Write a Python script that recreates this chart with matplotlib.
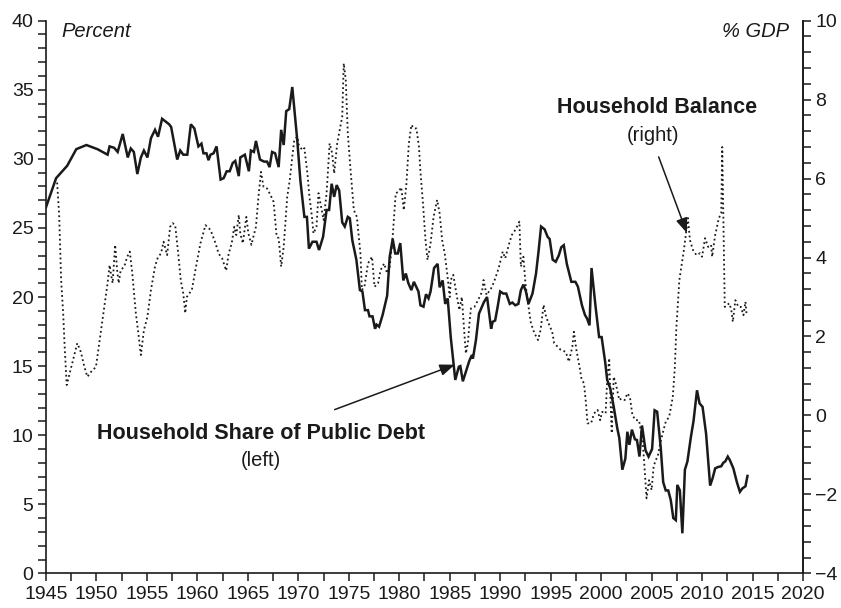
import matplotlib
matplotlib.use("Agg")
import matplotlib.pyplot as plt
from matplotlib.ticker import MultipleLocator

plt.rcParams['font.family'] = ['Liberation Sans', 'DejaVu Sans']

# household share of public debt (left axis, percent)
debt_years = [1945.0, 1946.0, 1947.1, 1948.0, 1949.0, 1950.1, 1951.1, 1951.3, 1951.75, 1952.1,
              1952.6, 1953.1, 1953.4, 1953.7, 1954.05, 1954.4, 1954.7, 1955.05, 1955.4, 1955.8,
              1956.1, 1956.5, 1957.2, 1957.4, 1958.0, 1958.3, 1958.6, 1959.0, 1959.35, 1959.7,
              1960.1, 1960.4, 1960.6, 1960.9, 1961.1, 1961.3, 1961.6, 1961.9, 1962.3, 1962.6,
              1962.9, 1963.2, 1963.5, 1963.75, 1964.1, 1964.25, 1964.7, 1965.1, 1965.3, 1965.6,
              1965.8, 1966.2, 1966.6, 1966.9, 1967.15, 1967.4, 1967.7, 1968.05, 1968.3, 1968.55,
              1968.8, 1969.1, 1969.4, 1969.9, 1970.2, 1970.6, 1970.85, 1971.05, 1971.4, 1971.8,
              1972.05, 1972.45, 1972.8, 1973.05, 1973.3, 1973.55, 1973.8, 1974.05, 1974.35, 1974.6,
              1974.9, 1975.1, 1975.35, 1975.75, 1976.1, 1976.35, 1976.6, 1976.9, 1977.05, 1977.35,
              1977.6, 1977.75, 1978.0, 1978.35, 1978.8, 1979.05, 1979.35, 1979.6, 1979.85, 1980.1,
              1980.4, 1980.65, 1980.9, 1981.2, 1981.45, 1981.9, 1982.1, 1982.4, 1982.65, 1982.9,
              1983.1, 1983.45, 1983.8, 1984.0, 1984.3, 1984.55, 1984.8, 1985.1, 1985.55, 1985.9,
              1986.05, 1986.3, 1986.6, 1986.95, 1987.2, 1987.3, 1987.6, 1987.9, 1988.4, 1988.7,
              1989.1, 1989.25, 1989.5, 1989.75, 1990.0, 1990.3, 1990.6, 1990.95, 1991.2, 1991.5,
              1991.8, 1992.05, 1992.3, 1992.55, 1992.8, 1993.2, 1993.55, 1993.8, 1994.05, 1994.4,
              1994.7, 1994.9, 1995.2, 1995.5, 1995.8, 1996.05, 1996.3, 1996.6, 1997.05, 1997.45,
              1997.7, 1998.1, 1998.4, 1998.6, 1998.85, 1999.05, 1999.45, 1999.8, 2000.05, 2000.4,
              2000.6, 2000.9, 2001.25, 2001.6, 2001.8, 2002.1, 2002.4, 2002.6, 2002.8, 2003.05,
              2003.35, 2003.55, 2003.8, 2004.05, 2004.4, 2004.7, 2005.05, 2005.3, 2005.55, 2005.9,
              2006.15, 2006.4, 2006.65, 2006.9, 2007.15, 2007.4, 2007.55, 2007.8, 2008.05, 2008.3,
              2008.55, 2008.9, 2009.15, 2009.5, 2009.75, 2010.05, 2010.4, 2010.8, 2011.05, 2011.3,
              2011.6, 2011.9, 2012.1, 2012.3, 2012.55, 2012.75, 2013.1, 2013.45, 2013.75, 2014.0,
              2014.3, 2014.5]
debt_share = [26.5, 28.6, 29.5, 30.7, 31.0, 30.7, 30.3, 30.9, 30.8, 30.5,
              31.8, 30.1, 30.75, 30.5, 28.9, 30.1, 30.6, 30.1, 31.5, 32.1,
              31.6, 32.9, 32.5, 32.3, 29.95, 30.6, 30.3, 30.3, 32.5, 32.2,
              30.9, 31.1, 30.4, 30.4, 29.9, 30.3, 30.4, 30.9, 28.5, 28.6,
              29.1, 29.1, 29.7, 29.85, 28.75, 30.1, 30.3, 29.1, 30.6, 30.5,
              31.3, 29.95, 29.8, 29.8, 29.4, 30.5, 30.4, 29.4, 32.1, 31.0,
              33.45, 33.6, 35.2, 31.3, 28.45, 25.8, 25.8, 23.5, 24.0, 24.0,
              23.4, 24.35, 26.3, 26.3, 28.2, 27.25, 28.1, 27.7, 25.4, 25.1,
              25.8, 25.7, 24.1, 22.7, 20.5, 20.4, 19.05, 19.05, 18.6, 18.6,
              17.7, 18.0, 17.85, 18.7, 20.1, 22.9, 24.2, 23.15, 23.15, 23.9,
              21.2, 21.7, 21.0, 20.5, 21.1, 20.4, 19.4, 19.3, 20.2, 19.9,
              20.4, 22.1, 22.4, 20.7, 21.2, 19.5, 19.9, 17.1, 14.0, 14.95,
              15.0, 13.9, 14.6, 15.4, 15.8, 15.55, 16.9, 18.8, 19.65, 20.0,
              17.7, 18.2, 18.3, 19.3, 20.4, 20.25, 20.25, 19.5, 19.6, 19.4,
              19.5, 20.5, 20.9, 20.4, 19.5, 20.25, 21.7, 23.3, 25.1, 24.9,
              24.35, 24.2, 22.7, 22.55, 23.0, 23.6, 23.75, 22.4, 21.1, 21.1,
              20.75, 19.4, 18.7, 18.45, 17.95, 22.1, 19.3, 17.1, 17.1, 15.3,
              14.0, 13.4, 12.05, 10.5, 9.8, 7.5, 8.3, 10.25, 9.3, 10.4,
              9.7, 9.65, 8.45, 10.7, 8.9, 8.45, 9.0, 11.8, 11.7, 9.15,
              6.6, 6.0, 6.0, 5.3, 4.0, 3.85, 6.4, 6.0, 2.9, 7.5,
              8.1, 9.9, 11.0, 13.25, 12.3, 12.05, 10.1, 6.35, 6.9, 7.6,
              7.7, 7.75, 8.0, 8.1, 8.45, 8.2, 7.6, 6.6, 5.9, 6.15,
              6.3, 7.05]

# household balance (right axis, % GDP)
balance_years = [1946.1, 1946.3, 1946.5, 1946.7, 1946.85, 1947.05, 1947.3, 1947.6, 1947.85, 1948.1,
                 1948.45, 1948.8, 1949.1, 1949.45, 1949.95, 1950.3, 1950.7, 1951.1, 1951.3, 1951.4,
                 1951.6, 1951.85, 1952.05, 1952.2, 1952.4, 1952.75, 1953.05, 1953.3, 1953.55, 1953.9,
                 1954.15, 1954.4, 1954.7, 1955.05, 1955.4, 1955.8, 1956.05, 1956.4, 1956.65, 1957.0,
                 1957.3, 1957.55, 1957.8, 1958.1, 1958.35, 1958.6, 1958.8, 1958.95, 1959.45, 1959.8,
                 1960.3, 1960.8, 1961.3, 1961.8, 1962.1, 1962.45, 1962.85, 1963.1, 1963.4, 1963.65,
                 1963.85, 1964.1, 1964.25, 1964.5, 1964.85, 1965.05, 1965.35, 1965.55, 1965.8, 1966.05,
                 1966.3, 1966.55, 1966.9, 1967.25, 1967.55, 1967.85, 1968.05, 1968.3, 1968.55, 1968.9,
                 1969.15, 1969.4, 1969.6, 1969.9, 1970.05, 1970.4, 1970.6, 1970.9, 1971.1, 1971.35,
                 1971.5, 1971.8, 1972.0, 1972.25, 1972.5, 1972.8, 1973.1, 1973.35, 1973.55, 1973.85,
                 1974.1, 1974.35, 1974.5, 1974.7, 1974.9, 1975.2, 1975.5, 1975.8, 1976.15, 1976.3,
                 1976.55, 1976.9, 1977.3, 1977.55, 1977.9, 1978.15, 1978.5, 1978.8, 1979.05, 1979.3,
                 1979.65, 1979.95, 1980.2, 1980.45, 1980.7, 1980.95, 1981.2, 1981.45, 1981.7, 1981.95,
                 1982.1, 1982.35, 1982.6, 1982.8, 1983.1, 1983.4, 1983.75, 1984.0, 1984.25, 1984.5,
                 1984.75, 1985.0, 1985.1, 1985.35, 1985.6, 1985.95, 1986.2, 1986.45, 1986.6, 1986.8,
                 1986.95, 1987.1, 1987.45, 1987.8, 1988.2, 1988.35, 1988.65, 1989.1, 1989.4, 1989.85,
                 1990.25, 1990.5, 1990.85, 1991.15, 1991.5, 1991.9, 1992.05, 1992.3, 1992.5, 1992.85,
                 1993.05, 1993.4, 1993.75, 1994.0, 1994.3, 1994.55, 1994.8, 1995.15, 1995.35, 1996.0,
                 1996.5, 1996.8, 1997.15, 1997.3, 1997.55, 1997.8, 1998.05, 1998.3, 1998.5, 1998.65,
                 1999.0, 1999.3, 1999.65, 1999.9, 2000.1, 2000.45, 2000.6, 2000.8, 2000.95, 2001.05,
                 2001.25, 2001.45, 2001.8, 2002.0, 2002.35, 2002.6, 2002.85, 2003.1, 2003.4, 2003.75,
                 2004.1, 2004.25, 2004.5, 2004.75, 2005.0, 2005.2, 2005.4, 2005.6, 2005.85, 2006.1,
                 2006.4, 2006.75, 2007.1, 2007.3, 2007.45, 2007.6, 2007.75, 2007.95, 2008.2, 2008.45,
                 2008.6, 2008.8, 2009.1, 2009.45, 2009.8, 2010.0, 2010.3, 2010.6, 2010.9, 2011.0,
                 2011.3, 2011.45, 2011.65, 2011.9, 2012.0, 2012.25, 2012.5, 2012.7, 2012.9, 2013.05,
                 2013.3, 2013.6, 2013.85, 2014.1, 2014.3, 2014.4]
balance_gdp = [5.9, 5.1, 3.43, 2.59, 1.74, 0.77, 1.02, 1.32, 1.57, 1.83,
               1.61, 1.23, 0.98, 1.1, 1.23, 1.87, 2.59, 3.35, 3.81, 3.64,
               3.35, 4.32, 3.68, 3.35, 3.68, 3.77, 4.02, 4.15, 3.6, 2.59,
               2.08, 1.53, 2.16, 2.5, 3.18, 3.77, 3.98, 4.11, 4.4, 4.06,
               4.78, 4.87, 4.82, 4.1, 3.43, 3.09, 2.59, 3.0, 3.18, 3.68,
               4.36, 4.82, 4.7, 4.36, 4.1, 3.98, 3.67, 4.1, 4.36, 4.78,
               4.57, 5.08, 4.61, 4.36, 5.03, 4.61, 4.32, 4.53, 4.78, 5.54,
               6.17, 5.79, 5.75, 5.58, 5.41, 4.53, 4.49, 3.77, 4.27, 5.54,
               5.96, 6.55, 6.98, 7.06, 6.85, 6.72, 6.77, 6.13, 5.54, 5.03,
               4.61, 4.78, 5.63, 5.29, 4.95, 5.63, 6.89, 6.64, 6.13, 6.89,
               7.23, 7.57, 8.92, 8.5, 7.15, 6.13, 5.2, 5.03, 4.11, 3.18,
               3.26, 3.85, 4.02, 3.26, 3.35, 3.68, 3.85, 3.6, 3.77, 4.36,
               5.63, 5.67, 5.78, 5.2, 5.84, 6.89, 7.36, 7.27, 7.27, 6.81,
               6.17, 5.37, 4.44, 3.94, 4.36, 5.03, 5.46, 5.12, 4.44, 4.11,
               3.6, 3.0, 3.43, 3.56, 3.18, 2.67, 3.0, 2.08, 1.57, 1.83,
               2.33, 2.71, 2.75, 2.92, 3.13, 3.43, 3.05, 3.22, 3.39, 3.73,
               4.15, 3.98, 4.32, 4.57, 4.7, 4.91, 3.77, 4.02, 3.35, 2.67,
               2.33, 2.08, 1.91, 2.16, 2.8, 2.5, 2.33, 2.12, 1.83, 1.66,
               1.61, 1.36, 1.74, 2.12, 1.66, 1.32, 0.94, 0.81, 0.31, -0.2,
               -0.2, 0.05, 0.14, -0.12, 0.09, 0.05, 0.9, 1.45, 0.22, -0.45,
               0.98, 0.81, 0.39, 0.43, 0.39, 0.56, 0.47, 0.01, -0.12, -0.12,
               -0.62, -1.13, -2.1, -1.64, -1.89, -1.3, -1.13, -1.05, -0.71, -0.45,
               -0.16, -0.03, 0.47, 1.2, 2.2, 2.8, 3.43, 3.77, 4.19, 4.7,
               5.0, 4.44, 4.19, 4.06, 4.11, 4.02, 4.49, 4.27, 4.32, 4.02,
               4.57, 4.74, 4.99, 5.12, 6.8, 2.75, 2.8, 2.84, 2.67, 2.37,
               2.92, 2.75, 2.75, 2.54, 2.88, 2.59]

ink = '#1a1a1a'
tick_fs = 14
text_fs = 14.5
bold_fs = 15.5

fig = plt.figure(figsize=(8.41, 6.08), dpi=100)
ax = fig.add_axes([0.0547, 0.057, 0.9001, 0.909])
ax2 = ax.twinx()

ax.plot(debt_years, debt_share, color=ink, lw=1.8, solid_joinstyle='miter', zorder=3)
ax2.plot(balance_years, balance_gdp, color=ink, lw=1.3, linestyle=(0, (1, 1.6)))

ax.set_xlim(1945, 2020)
ax.set_ylim(0, 40)
ax2.set_ylim(-4, 10)

ax.xaxis.set_major_locator(MultipleLocator(5))
ax.xaxis.set_minor_locator(MultipleLocator(2.5))
ax.yaxis.set_major_locator(MultipleLocator(5))
ax.yaxis.set_minor_locator(MultipleLocator(1))
ax2.yaxis.set_major_locator(MultipleLocator(2))
ax2.yaxis.set_minor_locator(MultipleLocator(0.4))

for a in (ax, ax2):
    a.spines['top'].set_visible(False)
    for s in a.spines.values():
        s.set_linewidth(1.2)
        s.set_color(ink)
    a.tick_params(which='both', direction='out', length=6, width=1.1, color=ink,
                  labelsize=tick_fs, labelcolor=ink, pad=3)
ax2.spines['left'].set_visible(False)
ax2.spines['bottom'].set_visible(False)

ax2.set_yticklabels([('\u2212' + str(int(-v))) if v < 0 else str(int(v)) for v in ax2.get_yticks()])

ax.text(0.02, 0.981, 'Percent', transform=ax.transAxes, style='italic', fontsize=text_fs,
        ha='left', va='center', color=ink)
ax.text(0.981, 0.981, '% GDP', transform=ax.transAxes, style='italic', fontsize=text_fs,
        ha='right', va='center', color=ink)

# labels with arrows
ax.text(1966.3, 10.15, 'Household Share of Public Debt', fontsize=bold_fs, fontweight='bold',
        ha='center', va='center', color=ink)
ax.text(1966.3, 8.2, '(left)', fontsize=text_fs, ha='center', va='center', color=ink)
ax.annotate('', xy=(1985.5, 15.1), xytext=(1973.6, 11.85),
            arrowprops=dict(arrowstyle='-|>,head_length=0.9,head_width=0.35', color=ink, lw=1.1,
                            shrinkA=0, shrinkB=0))

ax2.text(2005.5, 7.79, 'Household Balance', fontsize=bold_fs, fontweight='bold',
         ha='center', va='center', color=ink)
ax2.text(2005.1, 7.1, '(right)', fontsize=text_fs, ha='center', va='center', color=ink)
ax2.annotate('', xy=(2008.5, 4.62), xytext=(2005.7, 6.55),
             arrowprops=dict(arrowstyle='-|>,head_length=0.9,head_width=0.35', color=ink, lw=1.1,
                             shrinkA=0, shrinkB=0))

fig.savefig('out.png', dpi=100)
